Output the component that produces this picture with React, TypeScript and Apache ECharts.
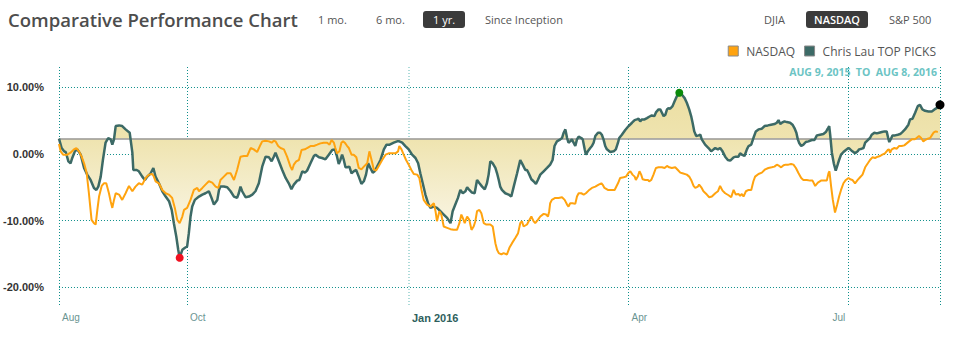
import React, { useEffect, useRef } from 'react';
import * as echarts from 'echarts';

// x = days since Aug 9, 2015 ; y = value on the chart's % axis
const nasdaqPoints: [number, number][] = [
  [0,1.5],[0.7,0.4],[1.7,-0.1],[3.5,-0.1],[4.8,0.2],[6.2,0.7],[7.2,0.9],[8.3,0.4],[9.4,-0.4],[10.4,-1.4],[11.5,-2.9],[12.4,-5.9],[13.5,-9.9],[14.5,-10.4],[15.2,-10.6],[15.9,-8.4],[16.6,-6.4],[17.7,-4.8],[18.6,-4.4],[19.6,-4.4],[20.7,-5.9],[21.4,-7.1],[22.1,-8.1],[22.8,-6.9],[23.5,-5.9],[24.9,-6.1],[26.2,-6.9],[27.6,-5.9],[29,-4.8],[30.4,-5.6],[31.7,-4.9],[33.1,-4.4],[34.5,-4.6],[35.9,-3.6],[37.3,-3.1],[38.7,-3],[39.3,-3.4],[40,-4.1],[41.4,-4.4],[42.8,-5.4],[44.2,-5.9],[45.5,-6.1],[46.9,-6.6],[48,-8.1],[49,-9.9],[50,-10.4],[51.1,-9.4],[51.8,-8.4],[53.1,-8.1],[54.5,-6.9],[55.9,-5.4],[57.3,-5.1],[58,-5.6],[59.4,-5.1],[60.7,-4.6],[62.1,-4.1],[63.5,-4.3],[64.9,-4.9],[66,-5.1],[66.9,-3.9],[68.3,-3.4],[69.7,-2.9],[71.1,-2.9],[72.5,-3.9],[73.8,-2.4],[75.2,-0.4],[76.6,-0.3],[78,-0.3],[79.4,0.9],[80.7,0.7],[82.1,0.3],[83.5,1.4],[84.2,1.9],[85.6,2],[87,1.9],[88.1,1.7],[89,2],
  [89.7,1.9],[90.8,1.2],[91.8,0.9],[93.2,0.7],[94.5,-0.4],[95.9,-1.9],[96.6,-2.4],[97.3,-1.6],[98.3,-1.1],[99.4,-0.9],[100.5,0.6],[101.9,0.7],[102.8,0.9],[104.2,1.2],[105.6,1.2],[107,1.4],[108.3,1.6],[109.7,1.7],[111.1,1.7],[112.1,1.4],[112.9,2.1],[113.9,1.7],[114.5,0.9],[115.2,0.1],[116.2,0.4],[117,1.7],[117.7,1.9],[118.4,1.7],[119.4,1.2],[120.1,0.9],[121.2,-0.1],[122.1,-0.1],[123.2,-0.5],[124.2,-2.1],[125.3,-2.3],[126.3,-1.9],[127.7,-1.4],[128.6,0.4],[129.5,-0.9],[130.4,-2.3],[131.4,-2.5],[132.8,-1.6],[133.9,-0.9],[135.3,-0.1],[136.6,0.1],[138,0.1],[139.4,0.1],[140.5,0.4],[141,1.2],[141.9,0.7],[142.8,-0.1],[143.8,-0.9],[144.9,-1.6],[146,-2.4],[147,-3],[148.4,-3.1],[149.3,-3.6],[150.2,-5.4],[151.1,-6.9],[152.5,-7.6],[153.9,-7.9],[155.3,-7.4],[156,-8.6],[156.6,-10.1],[157.6,-8.6],[158.4,-9.1],[159.4,-10.9],[160.8,-11.1],[162.2,-11.3],[163.5,-11.4],[164.9,-11.4],[165.9,-10.4],[166.7,-9.1],[167.3,-9.6],[168.1,-10.4],[169.1,-9.4],[170,-9.9],[170.9,-11.4],[171.8,-10.9],[172.5,-10.1],[173.2,-8.6],[174.2,-8.4],[175,-8.9],[176,-10.4],[176.9,-10.6],[178.7,-10.6],[179.7,-10.9],
  [180.8,-13.4],[181.5,-14.4],[182.2,-14.9],[183.3,-15.1],[184.2,-14.9],[185.6,-15.1],[186.6,-14.1],[187.7,-13.4],[189.1,-12.6],[190.2,-11.9],[191.1,-10.4],[191.8,-10.1],[192.5,-10.9],[193.9,-10.6],[194.6,-10.1],[195.7,-9.4],[196.6,-10.1],[197.3,-10.4],[198.4,-9.9],[199.4,-9.4],[200.8,-9],[201.8,-9.1],[202.6,-9.4],[203.1,-8.6],[203.5,-7.4],[204.2,-6.9],[205.6,-6.6],[207,-6.6],[208.4,-6.5],[209.5,-6.9],[210.5,-7.6],[211.1,-7.9],[211.8,-7.4],[212.8,-7.4],[213.9,-7.5],[214.6,-6.4],[215.3,-5.9],[216.4,-5.9],[217.4,-6.1],[218.3,-5.9],[219.4,-5.5],[220.8,-5.1],[222.2,-4.9],[223.6,-4.6],[224.7,-4.4],[225.2,-4.6],[226,-5.1],[227.4,-5.4],[228.8,-5.4],[230.2,-5.4],[231.6,-4.4],[232.5,-3.6],[233.9,-3.5],[234.9,-3.4],[236,-2.8],[236.7,-2.6],[237.6,-3.1],[238.5,-3.4],[239,-3.9],[239.8,-3.4],[240.5,-2.6],[241.2,-3.1],[241.8,-3.8],[242.9,-3.9],[244,-3.9],[244.5,-4.1],[245.4,-3.9],[246.3,-3.1],[247.3,-2.1],[248.4,-2],[249.8,-2],[250.9,-2.1],[251.9,-1.8],[252.8,-2],[253.9,-2.1],[255.3,-2],[256.4,-2.4],[257.4,-2.8],[258.3,-2.9],[260.1,-3.1],[261.1,-3.4],[261.9,-3.9],[262.9,-4.8],[263.6,-5.1],[264.7,-4.9],[265.2,-4.6],[266.1,-5],[267,-5.6],[268.4,-6.1],[269.4,-6.5],[270.5,-6.4],
  [271.9,-5.9],[273,-5.6],[273.9,-4.8],[274.9,-5.5],[276,-5.9],[277.4,-6.2],[278.5,-6.5],[279.5,-5.4],[280.4,-6.1],[281.5,-6],[282.2,-6.3],[282.9,-6],[283.6,-6.4],[284.6,-5.6],[285.7,-5.4],[286.8,-5.4],[287.7,-4.1],[288.4,-3.4],[289.8,-3],[291.2,-2.8],[292.6,-2.3],[293.9,-2.1],[295.3,-2],[296.4,-1.9],[297.4,-1.6],[298.4,-1.8],[299.2,-2],[300.2,-1.7],[301.1,-1.6],[302.2,-1.6],[303.3,-1.5],[304.3,-1.6],[305.3,-2.1],[306.4,-2.9],[307.5,-3.6],[308.4,-3.9],[309.8,-3.9],[311.2,-4],[312.2,-4],[313.3,-4.8],[314.4,-4.3],[315.7,-4],[317.1,-4],[318.1,-4],[318.8,-2.9],[319.2,-2.6],[319.9,-4.9],[320.6,-6.9],[321.5,-8.8],[322.4,-7.6],[323.2,-6.4],[324,-5.4],[325,-4.4],[326,-3.9],[327.1,-3.6],[327.8,-3.8],[328.7,-3.9],[329.8,-4.4],[330.9,-3.9],[331.9,-3.5],[332.9,-3.1],[334,-2],[335.1,-1.4],[336,-0.9],[337,-0.5],[338.1,-0.6],[339.2,-0.4],[340.2,-0.3],[341.1,-0.1],[342.2,0.1],[343.3,0.6],[343.9,0.7],[344.3,0.2],[345,0.7],[346.1,0.9],[347.1,0.8],[348,1.2],[349.1,1.2],[350.2,1.3],[351.2,1.6],[352.2,1.9],[353.3,2.2],[354.4,2.2],[355.3,2.4],[356.3,2.7],[357.2,2.4],[358.1,1.9],[358.8,2.1],[359.9,2.3],[360.9,2.4],[361.6,2.8],[362.3,3.2],[363.2,3.4],[364.1,3.3],[364.3,3.3]
];

const picksPoints: [number, number][] = [
  [0,2.3],[1.1,0.9],[2.1,0.4],[2.8,0.3],[3.9,-1.1],[4.8,-1.4],[5.5,-0.6],[6.6,0.4],[7.6,0.7],[9,-0.1],[10.4,-2.1],[11.7,-3.1],[13.1,-3.9],[14.5,-5.1],[15.5,-5.4],[16.3,-4.9],[17.3,-3.4],[18.2,-0.9],[19.3,1.7],[20.4,2.4],[21.4,2.2],[22.1,1.4],[22.8,2.2],[23.5,4.2],[24.9,4.3],[26.2,4.2],[27.6,3.7],[29.3,3.2],[30.4,0.2],[30.8,-2.4],[32.2,-2.4],[33.1,-2.6],[34.5,-3.4],[35.6,-3.9],[36.6,-3.4],[38,-2.9],[39.1,-2.1],[40,-3.4],[41.4,-4.4],[42.8,-5.6],[44.2,-6.4],[45.6,-7.1],[46.7,-8.4],[47.6,-10.4],[48.6,-12.4],[49.4,-14.4],[50,-15.6],[51.1,-14.4],[52.2,-14.1],[53.1,-13.9],[53.8,-11.9],[54.5,-9.4],[55.2,-7.9],[56.3,-6.9],[58,-6.4],[59.4,-6.1],[60.7,-5.9],[62.1,-5.6],[63.2,-6.6],[64.2,-7.6],[65.6,-6.9],[66.3,-5.4],[66.9,-4.9],[68.3,-4.9],[69.7,-5],[71.1,-5.6],[72.5,-6.4],[73.8,-6.6],[74.5,-5.9],[75.2,-4.9],[75.9,-5.6],[77.3,-6.5],[78.7,-6.4],[80.1,-6.1],[81.4,-5.6],[82.8,-4.4],[84.2,-1.9],[85.6,-0.4],[87,-0.5],[88.1,-1.1],[89,-0.4],
  [89.7,0.2],[91.1,-1.1],[92.5,-2.4],[93.9,-3.6],[95.2,-4.4],[96.3,-5.3],[97.3,-4.6],[98.7,-4],[99.6,-3.9],[100.8,-2.6],[101.9,-2.8],[102.8,-2.5],[104.2,-1.4],[105.6,-0.3],[106.3,-0.1],[107.7,-0.5],[109,-0.6],[110.4,-0.8],[111.8,-0.1],[113.2,0.6],[114.3,0.7],[115.2,-0.4],[115.9,-1.5],[116.6,-0.9],[117.3,-0.1],[118,-0.9],[118.7,-2],[119.4,-2],[120.3,-1.9],[121.2,-2.9],[122.1,-2.6],[123.1,-2.4],[124.2,-3.4],[125.3,-4.5],[126.3,-4.1],[127.2,-3.1],[128.1,-1.4],[129,-2.1],[130,-2.8],[130.8,-2.6],[131.8,-1.9],[133.2,-0.9],[134.6,0.7],[135.7,1.4],[137,1.4],[138.7,1.7],[140.1,1.9],[141,1.9],[142.2,1.7],[143.5,1.2],[144.9,0.7],[146.3,-0.1],[147.7,-0.6],[148.8,-1.4],[149.7,-2.9],[150.7,-4.4],[151.8,-6.1],[152.9,-7.4],[153.9,-8.1],[155.3,-7.9],[156.6,-8.1],[158,-8.6],[159.4,-9.1],[160.8,-9.6],[162.2,-10.4],[163.1,-8.6],[164.2,-7.6],[165.3,-6.6],[166.3,-5.4],[167.3,-5.9],[168.4,-5.6],[169.1,-5],[170,-5.4],[171.1,-5.8],[172.2,-5.9],[173.2,-3.9],[174.2,-4.4],[175.3,-4.9],[176.4,-5.3],[177.3,-4.4],[178,-3.1],[178.7,-1.1],[179.7,-1.4],
  [180.8,-2.1],[181.5,-2.9],[182.2,-3.9],[182.8,-4.9],[183.5,-5.4],[184.9,-5.9],[186.3,-6.1],[187.4,-6.4],[188.4,-4.9],[189.8,-2.9],[191.1,-0.9],[192.1,-1.6],[193.2,-2.4],[193.9,-2.4],[194.6,-2.9],[195.7,-3.8],[196.6,-4.1],[197.6,-4.5],[198.4,-3.9],[199.4,-3.1],[200.8,-2.6],[202.2,-2.1],[203.5,-1.6],[204.5,-0.9],[205.3,1.2],[206.3,1.9],[207.7,2.2],[208.4,2.4],[209.1,3.2],[209.8,3.7],[210.5,2.4],[211.1,1.7],[211.8,1.9],[212.5,2.2],[213.2,1.7],[213.9,1.2],[214.6,2.2],[215.3,2.6],[216.4,2.4],[217,2.2],[217.8,0.7],[218.3,-0.1],[219.1,0.4],[220.1,0.9],[220.8,1.2],[221.5,1.7],[222.2,2.7],[223.3,3.2],[224.2,3.2],[224.9,2.9],[225.6,2.2],[226.3,1.2],[227,0.7],[228.4,0.3],[229.8,0.4],[230.7,0.7],[231.6,1.7],[232.1,2.4],[233.2,2.9],[234.6,3.6],[236,4.2],[237.4,4.7],[238.5,5.1],[239.4,5.2],[240.1,5.3],[240.8,4.9],[241.5,5.2],[242.6,5.2],[243.6,5.4],[244.5,5.6],[245.6,5.8],[246.7,5.7],[247.4,6.3],[248.4,6.7],[249.1,6.7],[249.8,6.2],[250.5,5.7],[251.2,5.9],[251.9,6.7],[252.5,6.9],[253.2,6.8],[254.2,7.2],[255,7.9],[256,8.7],[257,9.2],[258.1,8.9],[259.2,8.4],[260.1,7.7],[261.1,6.7],[261.9,5.7],[262.5,4.7],[263.2,3.4],[264,2.7],[265,2.8],[265.7,2.9],[266.3,2.2],[267.7,1.4],[269.1,0.9],[270.2,0.4],[271.2,0.7],
  [271.9,0.9],[273,0.7],[273.9,0.9],[274.9,0.4],[276,-0.4],[277.1,-0.9],[278.1,-1],[279.5,-0.5],[280.4,-0.4],[281.5,-0.4],[282.2,0.1],[282.9,-0.1],[284,-0.3],[285,0.7],[285.7,1.2],[286.8,1.4],[287.7,2.4],[288.7,3.4],[289.8,3.7],[291.2,3.8],[292.3,4.2],[293.7,4.3],[295,4.4],[296.4,4.5],[297.4,4.7],[298.1,5.1],[298.8,4.5],[299.5,4.7],[300.6,4.9],[301.5,4.8],[302.9,4.7],[303.9,4.4],[304.7,3.9],[305.5,3.2],[306.1,2.2],[306.6,1.7],[307.5,1.2],[308.4,1.4],[309.4,1.8],[310.5,1.9],[311.9,2.1],[313,2.1],[314,2.8],[315.3,2.9],[316.7,3],[317.7,3.3],[318.5,3.8],[319.1,4.2],[319.5,2.9],[320.2,0.2],[321,-1.4],[321.8,-2.5],[322.6,-1.6],[323.2,-0.9],[324,-0.1],[325,0.3],[326,0.6],[327.1,0.9],[327.8,0.7],[328.7,0.4],[329.8,0.1],[330.9,0.4],[331.5,0.7],[332.6,0.8],[333.3,0.9],[334,1.7],[335.1,2.1],[336,2.4],[336.7,2.9],[337.8,3.2],[338.8,3.1],[339.8,3.2],[340.9,3.3],[342,3.4],[342.9,3.4],[343.6,2.3],[344,1.8],[344.7,2.3],[345.3,2.8],[346.4,2.8],[347.5,2.9],[348.5,3],[349.4,3.3],[350.5,3.7],[351.9,4.4],[352.6,5.2],[353.6,5.3],[354.7,6.2],[355.8,7.2],[356.7,7.4],[357.7,6.7],[358.8,6.5],[360.2,6.4],[361.6,6.4],[362.7,6.7],[363.6,6.9],[364.6,7.2],[365,7.4]
];

const baselineValue = 2.3;
const yTickValues = [-20, -10, 0, 10];
const gridDays = [0, 53, 145, 236, 327, 365];
const lightGridDays = [145];
const monthTickDays = [0, 53, 145, 236];
const monthTickLabels = ['Aug', 'Oct', 'Jan 2016', 'Apr'];
const boldTickLabels = ['Jan 2016'];
const julTickDays = [327];
const julTickLabels = ['Jul'];
const seriesNames = ['NASDAQ', 'Chris Lau TOP PICKS'];
const titleText = 'Comparative Performance Chart';
const rangeButtons = ['1 mo.', '6 mo.', '1 yr.', 'Since Inception'];
const indexButtons = ['DJIA', 'NASDAQ', 'S&P 500'];
const dateRangeText = 'AUG 9, 2015  TO  AUG 8, 2016';

const ORANGE = '#ffa30f';
const DARK = '#3c6a66';
const GRID = '#0e8f8b';
const FONT = '"Open Sans", "Noto Sans", sans-serif';
const ARIAL = '"Liberation Sans", Arial, sans-serif';

export default function App() {
  const ref = useRef<HTMLDivElement>(null);
  useEffect(() => {
    if (!ref.current) return;
    const chart = echarts.init(ref.current, undefined, { renderer: 'svg' });

    let minI = 0, maxI = 0;
    picksPoints.forEach((p, i) => {
      if (p[1] < picksPoints[minI][1]) minI = i;
      if (p[1] > picksPoints[maxI][1]) maxI = i;
    });
    const lastI = picksPoints.length - 1;

    const txt = (text: string, x: number, y: number, font: string, fill: string, align = 'left') => ({
      type: 'text', x, y, silent: true,
      style: { text, font, fill, align, verticalAlign: 'middle', textAlign: align, textVerticalAlign: 'middle' },
    });

    const option: any = {
      animation: false,
      backgroundColor: '#ffffff',
      grid: { left: 58, right: 18, top: 66, bottom: 51, containLabel: false },
      legend: {
        data: [
          { name: seriesNames[0], itemStyle: { color: ORANGE, borderColor: '#8a8a8a', borderWidth: 1 } },
          { name: seriesNames[1], itemStyle: { color: DARK, borderColor: '#8a8a8a', borderWidth: 1 } },
        ],
        right: 17, top: 40, icon: 'rect', itemWidth: 10, itemHeight: 10, itemGap: 9,
        textStyle: { color: '#555', fontSize: 12, fontFamily: FONT, padding: [0, 0, 0, 3] },
        selectedMode: false,
      },
      xAxis: [
        {
          type: 'value', min: 0, max: 365,
          axisLine: { show: false }, splitLine: { show: false },
          axisTick: { show: true, customValues: gridDays, length: 16, lineStyle: { color: GRID, width: 1, type: [1, 2] } },
          axisLabel: {
            customValues: monthTickDays,
            formatter: (v: number) => {
              const i = monthTickDays.indexOf(v);
              const s = i >= 0 ? monthTickLabels[i] : '';
              return boldTickLabels.includes(s) ? `{b|${s}}` : s;
            },
            align: 'left', padding: [0, 0, 0, 3], margin: 7,
            color: '#6b9592', fontSize: 10, fontFamily: ARIAL,
            rich: { b: { fontWeight: 'bold', color: '#2e5f5d', fontSize: 11, fontFamily: ARIAL } },
          },
        },
        {
          type: 'value', min: 0, max: 365, position: 'bottom',
          axisLine: { show: false }, splitLine: { show: false }, axisTick: { show: false },
          axisLabel: {
            customValues: julTickDays,
            formatter: (v: number) => julTickLabels[julTickDays.indexOf(v)] ?? '',
            align: 'right', padding: [0, 3, 0, 0], margin: 7,
            color: '#6b9592', fontSize: 10, fontFamily: ARIAL,
          },
        },
      ],
      yAxis: {
        type: 'value', min: -22.7, max: 13.23,
        axisLine: { show: false }, axisTick: { show: false }, splitLine: { show: false },
        axisLabel: {
          customValues: yTickValues,
          formatter: (v: number) => v.toFixed(2) + '%',
          fontWeight: 'bold', fontSize: 11, color: '#333', fontFamily: ARIAL, margin: 15,
        },
      },
      series: [
        {
          name: 'grid', type: 'line', data: [], z: 1, silent: true,
          markLine: {
            silent: true, symbol: ['none', 'none'], label: { show: false }, z: 1,
            lineStyle: { color: GRID, width: 1, type: [1, 2] },
            data: [
              ...yTickValues.map((v) => ({ yAxis: v })),
              ...gridDays.map((d) => ({
                xAxis: d,
                lineStyle: lightGridDays.includes(d) ? { color: '#93cfcd', width: 1.5, type: [1, 2] } : undefined,
              })),
            ],
          },
        },
        {
          name: 'fill', type: 'line', data: picksPoints, z: 2, silent: true, showSymbol: false, symbol: 'none',
          lineStyle: { width: 0, opacity: 0 },
          areaStyle: {
            origin: baselineValue, opacity: 1,
            color: {
              type: 'linear', x: 0, y: 70, x2: 0, y2: 290, global: true,
              colorStops: [
                { offset: 0, color: '#eadc9c' },
                { offset: 0.32, color: '#efe4b0' },
                { offset: 0.6, color: '#f6f0d5' },
                { offset: 0.85, color: '#fdfbf1' },
                { offset: 1, color: '#ffffff' },
              ],
            },
          },
          markLine: {
            silent: true, symbol: ['none', 'none'], label: { show: false }, z: 3,
            lineStyle: { color: '#999', width: 1.5, type: 'solid' },
            data: [{ yAxis: baselineValue }],
          },
        },
        {
          name: seriesNames[1], type: 'line', data: picksPoints, z: 4, showSymbol: false, symbol: 'none',
          itemStyle: { color: DARK },
          lineStyle: { color: DARK, width: 2.5 },
          markPoint: {
            symbol: 'circle', z: 10, label: { show: false }, silent: true,
            data: [
              { coord: picksPoints[minI], symbolSize: 8, itemStyle: { color: '#f01020' } },
              { coord: picksPoints[maxI], symbolSize: 8, itemStyle: { color: '#0a8a0a' } },
              { coord: picksPoints[lastI], symbolSize: 9, itemStyle: { color: '#000' } },
            ],
          },
        },
        {
          name: seriesNames[0], type: 'line', data: nasdaqPoints, z: 5, showSymbol: false, symbol: 'none',
          itemStyle: { color: ORANGE },
          lineStyle: { color: ORANGE, width: 2 },
        },
      ],
      graphic: {
        elements: [
          txt(titleText, 8, 19, `600 18.5px ${FONT}`, '#4d4d4d'),
          txt(rangeButtons[0], 318, 19, `11px ${FONT}`, '#555'),
          txt(rangeButtons[1], 376, 19, `11px ${FONT}`, '#555'),
          { type: 'rect', shape: { x: 423, y: 11, width: 42, height: 17, r: 3 }, style: { fill: '#3b3b3b' }, silent: true },
          txt(rangeButtons[2], 444, 19.5, `11px ${FONT}`, '#fff', 'center'),
          txt(rangeButtons[3], 485, 19, `11px ${FONT}`, '#555'),
          txt(indexButtons[0], 764, 19, `11px ${FONT}`, '#555'),
          { type: 'rect', shape: { x: 806, y: 11, width: 62, height: 17, r: 3 }, style: { fill: '#3b3b3b' }, silent: true },
          txt(indexButtons[1], 837, 19.5, `600 11px ${FONT}`, '#fff', 'center'),
          txt(indexButtons[2], 889, 19, `11px ${FONT}`, '#555'),
          txt(dateRangeText, 937, 72, `bold 10.5px ${FONT}`, '#6cc4c4', 'right'),
        ],
      },
    };
    chart.setOption(option);
    return () => chart.dispose();
  }, []);

  return (
    <div
      ref={ref}
      style={{ position: 'absolute', left: 0, top: 0, width: 958, height: 356, background: '#fff' }}
    />
  );
}
